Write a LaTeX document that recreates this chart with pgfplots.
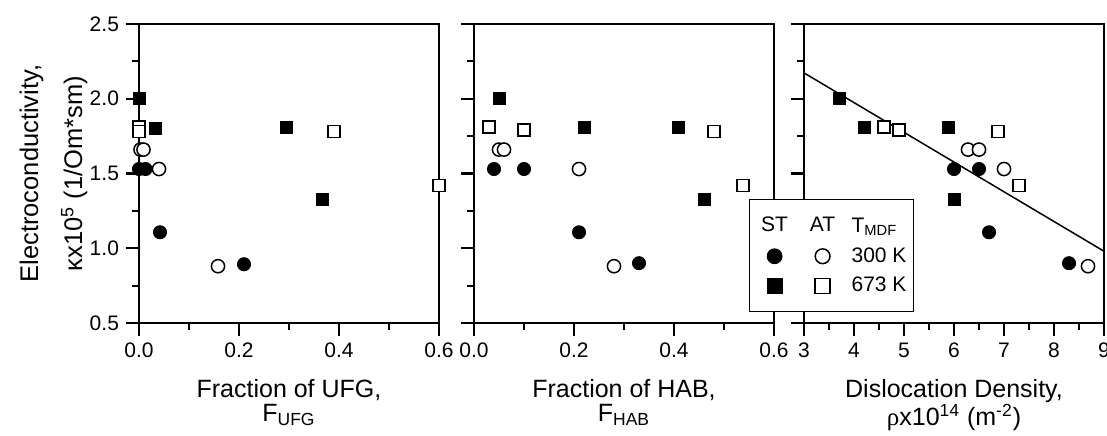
\documentclass[border=0pt]{standalone}
\usepackage{pgfplots}
\pgfplotsset{compat=1.18}
\usepackage{fontspec}
\setmainfont{Liberation Sans}
\newfontfamily\greekfont{Liberation Serif}

\pgfplotsset{
  panel/.style={
    scale only axis, width=150pt, height=149.5pt,
    ymin=0.5, ymax=2.5,
    ytick={0.5,1.0,1.5,2.0,2.5}, minor y tick num=1, minor x tick num=1,
    tick align=outside, tick pos=left,
    major tick length=6.5pt, minor tick length=3.5pt,
    every tick/.style={black, line width=1.1pt},
    axis line style={line width=1.2pt},
    axis on top, clip=false,
    tick label style={font=\fontsize{10.5}{12}\selectfont},
    label style={font=\fontsize{12.5}{12}\selectfont},
    /pgf/number format/assume math mode=true,
    xlabel style={align=center, at={(axis description cs:0.5,0)}, anchor=north, inner sep=0pt, yshift=-28pt},
  },
  fc/.style={only marks, mark=*, mark size=3.3pt, mark options={fill=black, draw=black}},
  oc/.style={only marks, mark=*, mark size=3.3pt, mark options={fill=white, draw=black, line width=0.75pt}},
  fs/.style={only marks, mark=square*, mark size=3pt, mark options={fill=black, draw=black}},
  os/.style={only marks, mark=square*, mark size=3pt, mark options={fill=white, draw=black, line width=0.75pt}},
  limg/.style={legend image code/.code={\path[draw=none, fill=none] (0pt,-4pt) rectangle (18pt,4pt);
      \draw[mark repeat=2,mark phase=2,##1, mark size=3.7pt] plot coordinates {(0pt,0pt) (9pt,0pt) (18pt,0pt)};}},
}

\begin{document}
\begin{tikzpicture}
\path[use as bounding box] (0,0) rectangle (553.5pt,217.5pt);

% Panel 1
\begin{axis}[panel, at={(69.5pt,56pt)}, anchor=south west,
  xmin=0, xmax=0.6, xtick={0,0.2,0.4,0.6},
  /pgf/number format/.cd, fixed, fixed zerofill, precision=1, /pgfplots/.cd,
  xlabel={Fraction of UFG,\\F\textsubscript{UFG}},
  ylabel={Electroconductivity,\\[8pt]κx10\textsuperscript{5} (1/Om*sm)},
  ylabel style={align=center, at={(axis description cs:-0.285,0.5)}, anchor=center, rotate=0, font=\fontsize{12.75}{14}\selectfont},
]
\addplot[fc] coordinates {(0,1.53) (0.013,1.53) (0.042,1.107) (0.21,0.893)};
\addplot[oc] coordinates {(0.003,1.66) (0.009,1.66) (0.04,1.53) (0.158,0.88)};
\addplot[fs] coordinates {(0,2.0) (0.032,1.80) (0.295,1.81) (0.366,1.33)};
\addplot[os] coordinates {(0.0,1.81) (0.0,1.78) (0.39,1.78) (0.6,1.42)};
\end{axis}

% Panel 2
\begin{axis}[panel, at={(237pt,56pt)}, anchor=south west,
  xmin=0, xmax=0.6, xtick={0,0.2,0.4,0.6}, yticklabels={},
  /pgf/number format/.cd, fixed, fixed zerofill, precision=1, /pgfplots/.cd,
  xlabel={Fraction of HAB,\\F\textsubscript{HAB}},
]
\addplot[fc] coordinates {(0.04,1.53) (0.10,1.53) (0.21,1.107) (0.33,0.90)};
\addplot[oc] coordinates {(0.05,1.66) (0.06,1.66) (0.21,1.53) (0.28,0.88)};
\addplot[fs] coordinates {(0.05,2.0) (0.22,1.81) (0.408,1.81) (0.46,1.33)};
\addplot[os] coordinates {(0.03,1.81) (0.10,1.79) (0.48,1.78) (0.538,1.42)};
\end{axis}

% Panel 3
\begin{axis}[panel, at={(402pt,56pt)}, anchor=south west,
  xmin=3, xmax=9, xtick={3,4,5,6,7,8,9}, yticklabels={},
  xlabel={Dislocation Density,\\{\greekfont ρ}x10\textsuperscript{14} (m\textsuperscript{-2})},
  legend columns=2,
  legend style={at={(rel axis cs:-0.183,0.415)}, anchor=north west, draw=black, line width=0.5pt, fill=white,
    font=\fontsize{10.5}{12}\selectfont, row sep=6pt, inner xsep=3.5pt, inner ysep=8.5pt,
    nodes={inner sep=0pt},
    /tikz/every odd column/.append style={column sep=5pt},
    /tikz/every even column/.append style={column sep=0pt}},
  legend cell align=left,
]
\addlegendimage{legend image code/.code={\path[draw=none, fill=none] (0pt,-4pt) rectangle (18pt,4pt); \node[anchor=base, inner sep=0pt] at (9pt,-2.2pt) {ST};}}
\addlegendentry{\mbox{}}
\addlegendimage{legend image code/.code={\path[draw=none, fill=none] (0pt,-4pt) rectangle (18pt,4pt); \node[anchor=base, inner sep=0pt] at (9pt,-2.2pt) {AT};}}
\addlegendentry{\hspace{0.5pt}T\textsubscript{MDF}}
\addplot[fc, limg] coordinates {(6.0,1.53) (6.5,1.53) (6.7,1.107) (8.3,0.90)};
\addlegendentry{\mbox{}}
\addplot[oc, limg] coordinates {(6.28,1.66) (6.5,1.66) (7.0,1.53) (8.68,0.88)};
\addlegendentry{\hspace{0.5pt}300 K}
\addplot[fs, limg] coordinates {(3.70,2.0) (4.2,1.81) (5.88,1.81) (6.0,1.33)};
\addlegendentry{\mbox{}}
\addplot[os, limg] coordinates {(4.6,1.81) (4.9,1.79) (6.88,1.78) (7.3,1.42)};
\addlegendentry{\hspace{0.5pt}673 K}
\addplot[no marks, black, line width=0.75pt, forget plot] coordinates {(3,2.173) (9,0.98)};
\end{axis}
\end{tikzpicture}
\end{document}
